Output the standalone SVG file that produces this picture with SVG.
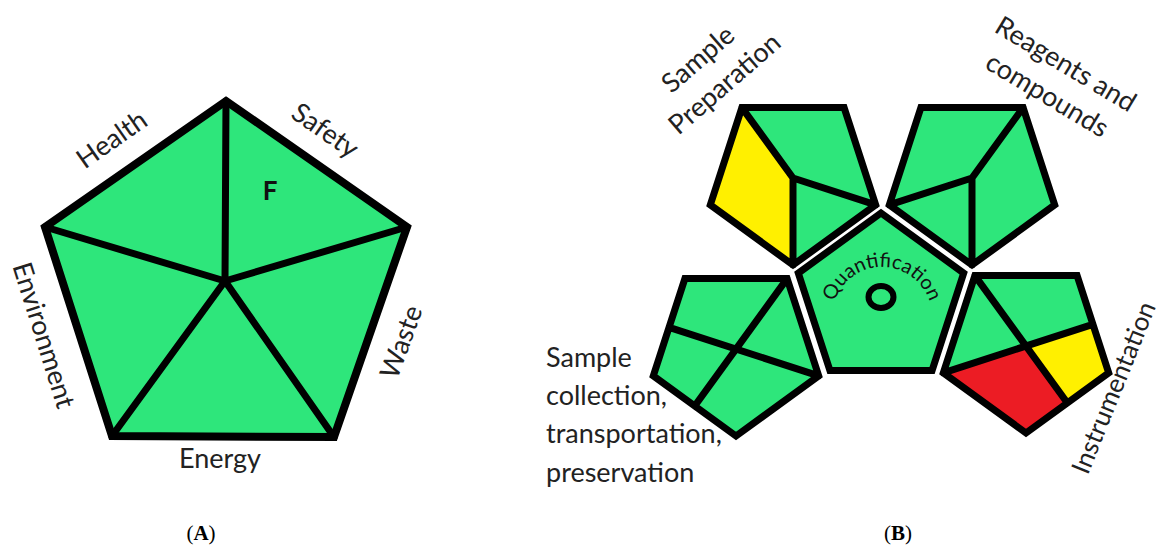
<svg xmlns="http://www.w3.org/2000/svg" width="1161" height="550" viewBox="0 0 1161 550">
<style>
.g{fill:#2ee67b}
.y{fill:#fff000}
.r{fill:#ec1c24}
.edge{fill:none;stroke:#000;stroke-width:7;stroke-linejoin:miter;stroke-linecap:round}
.lbl{font-family:Lato,"Liberation Sans",sans-serif;font-size:27px;fill:#222}
.cap{font-family:"Liberation Serif",serif;font-size:21px;fill:#000}
</style>
<rect width="1161" height="550" fill="#fff"/>

<!-- Panel A -->
<g id="pentagonA">
  <polygon class="g" points="226,101 407,227 334,437 112,436 45,227"/>
  <path class="edge" style="stroke-width:8" d="M226,101 L407,227 L334,437 L112,436 L45,227 Z"/>
  <path class="edge" d="M225,281 L226,101 M225,281 L407,227 M225,281 L334,437 M225,281 L112,436 M225,281 L45,227"/>
  <text x="270" y="200" text-anchor="middle" style="font-family:Lato,'Liberation Sans',sans-serif;font-size:26px;font-weight:bold;fill:#111">F</text>
</g>
<g id="labelsA">
  <text class="lbl" text-anchor="middle" transform="translate(117,147) rotate(-35)">Health</text>
  <text class="lbl" text-anchor="middle" transform="translate(320,138) rotate(35)">Safety</text>
  <text class="lbl" text-anchor="middle" transform="translate(35,338) rotate(72.5)">Environment</text>
  <text class="lbl" text-anchor="middle" transform="translate(410,345) rotate(-70)">Waste</text>
  <text class="lbl" text-anchor="middle" x="220" y="468">Energy</text>
</g>

<!-- Panel B -->
<g id="samplePreparation">
  <polygon class="g" points="741.9,107.6 844.1,107.6 875.7,204.9 793,265 710.3,204.9"/>
  <polygon class="y" points="741.9,107.6 793,178 793,265 710.3,204.9"/>
  <path class="edge" d="M741.9,107.6 L844.1,107.6 L875.7,204.9 L793,265 L710.3,204.9 Z M793,178 L741.9,107.6 M793,178 L875.7,204.9 M793,178 L793,265"/>
</g>
<g id="reagents">
  <polygon class="g" points="920.9,107.6 1023.1,107.6 1054.7,204.9 972,265 889.3,204.9"/>
  <path class="edge" d="M920.9,107.6 L1023.1,107.6 L1054.7,204.9 L972,265 L889.3,204.9 Z M972,178 L1023.1,107.6 M972,178 L972,265 M972,178 L889.3,204.9"/>
</g>
<g id="sampleCollection">
  <polygon class="g" points="684.9,278.6 787.1,278.6 818.7,375.9 736,436 653.3,375.9"/>
  <path class="edge" d="M684.9,278.6 L787.1,278.6 L818.7,375.9 L736,436 L653.3,375.9 Z M818.7,375.9 L669.1,327.3 M787.1,278.6 L694.7,406"/>
</g>
<g id="instrumentation">
  <polygon class="g" points="974.9,275.6 1077.1,275.6 1108.7,372.9 1026,433 943.3,372.9"/>
  <polygon class="y" points="1026,346 1092.9,324.3 1108.7,372.9 1067.4,403"/>
  <polygon class="r" points="1026,346 1067.4,403 1026,433 943.3,372.9"/>
  <path class="edge" d="M974.9,275.6 L1077.1,275.6 L1108.7,372.9 L1026,433 L943.3,372.9 Z M974.9,275.6 L1067.4,403 M943.3,372.9 L1092.9,324.3"/>
</g>
<g id="quantification">
  <polygon class="g" points="881,213 963.7,273.1 932.1,370.4 829.9,370.4 798.3,273.1"/>
  <path class="edge" d="M881,213 L963.7,273.1 L932.1,370.4 L829.9,370.4 L798.3,273.1 Z"/>
  <ellipse cx="881" cy="297" rx="12.5" ry="11" fill="none" stroke="#000" stroke-width="6"/>
  <path id="qarc" d="M834.9,333.8 A50,50 0 1 1 929.1,333.8" fill="none"/>
  <text style="font-family:Lato,'Liberation Sans',sans-serif;font-size:20px;fill:#111"><textPath href="#qarc" startOffset="50%" text-anchor="middle">Quantification</textPath></text>
</g>
<g id="labelsB">
  <text class="lbl" text-anchor="middle" transform="translate(704,66) rotate(-41)"><tspan x="0" y="0">Sample</tspan><tspan x="4" y="36">Preparation</tspan></text>
  <text class="lbl" text-anchor="middle" transform="translate(1061,72) rotate(31)"><tspan x="0" y="0">Reagents and</tspan><tspan x="0" y="36">compounds</tspan></text>
  <text class="lbl" text-anchor="middle" style="font-size:26px" transform="translate(1122,391) rotate(-68)">Instrumentation</text>
  <text class="lbl" x="546" y="367">Sample<tspan x="546" y="405">collection,</tspan><tspan x="546" y="443">transportation,</tspan><tspan x="546" y="482">preservation</tspan></text>
</g>

<g id="captions">
  <text class="cap" x="201" y="540" text-anchor="middle">(<tspan font-weight="bold">A</tspan>)</text>
  <text class="cap" x="898" y="540" text-anchor="middle">(<tspan font-weight="bold">B</tspan>)</text>
</g>
<g id="connectors"/>
</svg>
